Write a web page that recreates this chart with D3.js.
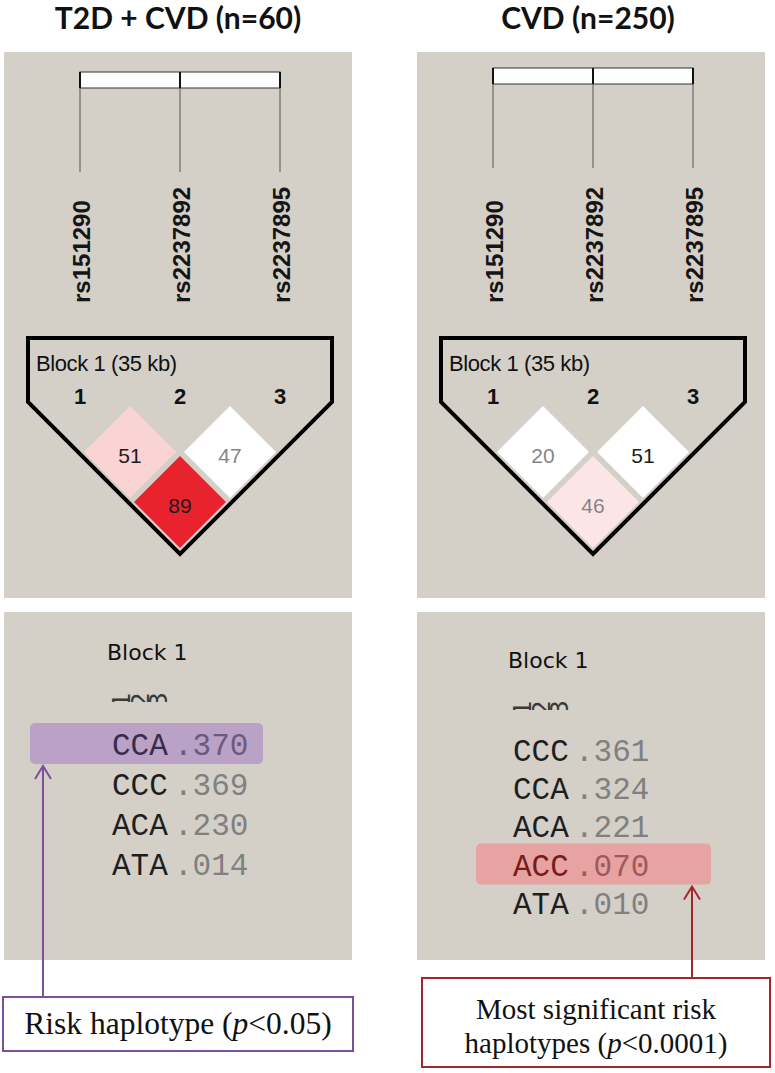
<!DOCTYPE html>
<html>
<head>
<meta charset="utf-8">
<script src="https://cdn.jsdelivr.net/npm/d3@7"></script>
<style>
body { margin: 0; background: #fff; }
</style>
</head>
<body>
<div id="chart"></div>
<script>
const titles = ["T2D + CVD (n=60)", "CVD (n=250)"];
const snps = ["rs151290", "rs2237892", "rs2237895"];
const ldPairs = [[0, 1], [1, 2], [0, 2]];
const ldT2D = [51, 47, 89];
const ldCVD = [20, 51, 46];
// how red each LD cell is (0 = white, 1 = full red)
const shadeT2D = [0.2, 0, 1];
const shadeCVD = [0, 0, 0.12];
// dark or grey number in the cell
const darkT2D = [true, false, true];
const darkCVD = [false, true, false];
const hapT2D = ["CCA", "CCC", "ACA", "ATA"];
const freqT2D = [0.370, 0.369, 0.230, 0.014];
const hapCVD = ["CCC", "CCA", "ACA", "ACC", "ATA"];
const freqCVD = [0.361, 0.324, 0.221, 0.070, 0.010];
const riskHaps = ["CCA", "ACC"];
const notes = [["Risk haplotype (", "p", "<0.05)"],
               ["Most significant risk", "haplotypes (", "p", "<0.0001)"]];

const w = 775;
const h = 1073;
const grey = "#d4d0c8";

const svg = d3.select("#chart")
    .append("svg")
    .attr("width", w)
    .attr("height", h);

const ldColor = d3.scaleLinear().domain([0, 1]).range(["#ffffff", "#e8232e"]);
const fmt = function (v) { return d3.format(".3f")(v).replace(/^0/, ""); };

// per panel layout
const panels = [
    { dx: 0, titleX: 178, barY: 72, ld: ldT2D, shade: shadeT2D, dark: darkT2D, haps: hapT2D, freqs: freqT2D,
      blockX: 107, blockY: 660, numY: 692, hapX: 112, rowY: 755, rowStep: 40,
      hlX: 30, hlW: 233, arrowX: 43, color: "#7b4f9b", hlFill: "#b9a2c6", hlText: "#3c2a4e", hlFreq: "#6c5a7e",
      box: [3, 997, 350, 54], noteSize: 31.5 },
    { dx: 413, titleX: 588, barY: 68, ld: ldCVD, shade: shadeCVD, dark: darkCVD, haps: hapCVD, freqs: freqCVD,
      blockX: 95, blockY: 668, numY: 700, hapX: 100, rowY: 761, rowStep: 38.2,
      hlX: 63, hlW: 235, arrowX: 279, color: "#a3262c", hlFill: "#e6a3a1", hlText: "#7a1a1c", hlFreq: "#9e5a5a",
      box: [9, 978, 348, 89], noteSize: 29 }
];

panels.forEach(function (p, pi) {
    const g = svg.append("g").attr("transform", "translate(" + p.dx + ",0)");

    // title
    svg.append("text")
        .attr("x", p.titleX)
        .attr("y", 29)
        .attr("text-anchor", "middle")
        .style("font-family", "Lato, 'Open Sans', sans-serif")
        .style("font-weight", "bold")
        .style("font-size", "30px")
        .style("fill", "#111")
        .text(titles[pi]);

    // ---- LD plot panel ----
    g.append("rect")
        .attr("x", 4).attr("y", 52)
        .attr("width", 348).attr("height", 546)
        .style("fill", grey);

    const xScale = d3.scalePoint().domain(snps).range([80, 280]);

    g.append("rect")
        .attr("x", xScale(snps[0])).attr("y", p.barY)
        .attr("width", xScale(snps[2]) - xScale(snps[0])).attr("height", 16)
        .style("fill", "#fff")
        .style("stroke", "#333")
        .style("stroke-width", 1);

    g.selectAll(".snpline")
        .data(snps)
        .enter()
        .append("line")
        .attr("x1", function (d) { return xScale(d); })
        .attr("x2", function (d) { return xScale(d); })
        .attr("y1", p.barY)
        .attr("y2", p.barY + 100)
        .style("stroke", "#555")
        .style("stroke-width", 1);

    g.selectAll(".snptick")
        .data(snps)
        .enter()
        .append("line")
        .attr("x1", function (d) { return xScale(d); })
        .attr("x2", function (d) { return xScale(d); })
        .attr("y1", p.barY)
        .attr("y2", p.barY + 16)
        .style("stroke", "#111")
        .style("stroke-width", 2);

    g.selectAll(".snplabel")
        .data(snps)
        .enter()
        .append("text")
        .attr("transform", function (d) { return "translate(" + (xScale(d) + 1.5) + ",303) rotate(-90)"; })
        .attr("dy", "0.35em")
        .style("font-family", "'Liberation Sans', Arial, sans-serif")
        .style("font-weight", "bold")
        .style("font-size", "24px")
        .style("fill", "#151515")
        .text(function (d) { return d; });

    // block outline
    const x0 = xScale(snps[0]) - 52;
    const x1 = xScale(snps[2]) + 52;
    const xm = xScale(snps[1]);
    const outline = [[x0, 338], [x1, 338], [x1, 402], [xm, 402 + (x1 - xm)], [x0, 402]];
    g.append("path")
        .attr("d", d3.line()(outline) + "Z")
        .style("fill", "none")
        .style("stroke", "#000")
        .style("stroke-width", 4)
        .style("stroke-linejoin", "miter");

    g.append("text")
        .attr("x", 36).attr("y", 371)
        .style("font-family", "'Liberation Sans', Arial, sans-serif")
        .style("font-size", "22px")
        .style("letter-spacing", "-0.4px")
        .style("fill", "#111")
        .text("Block 1 (35 kb)");

    g.selectAll(".snpnum")
        .data(snps)
        .enter()
        .append("text")
        .attr("x", function (d) { return xScale(d); })
        .attr("y", 404)
        .attr("text-anchor", "middle")
        .style("font-family", "'Liberation Sans', Arial, sans-serif")
        .style("font-weight", "bold")
        .style("font-size", "22px")
        .style("fill", "#111")
        .text(function (d, i) { return i + 1; });

    // LD diamonds
    const half = 46;
    const cells = ldPairs.map(function (pr, k) {
        const a = xScale(snps[pr[0]]);
        const b = xScale(snps[pr[1]]);
        return { cx: (a + b) / 2, cy: 402 + (pr[1] - pr[0]) * 50, v: p.ld[k], s: p.shade[k], dark: p.dark[k] };
    });
    g.selectAll(".cell")
        .data(cells)
        .enter()
        .append("path")
        .attr("d", function (d) {
            return d3.line()([[d.cx, d.cy - half], [d.cx + half, d.cy], [d.cx, d.cy + half], [d.cx - half, d.cy]]) + "Z";
        })
        .style("fill", function (d) { return ldColor(d.s); });
    g.selectAll(".cellval")
        .data(cells)
        .enter()
        .append("text")
        .attr("x", function (d) { return d.cx; })
        .attr("y", function (d) { return d.cy + 4; })
        .attr("dy", "0.35em")
        .attr("text-anchor", "middle")
        .style("font-family", "'Liberation Sans', Arial, sans-serif")
        .style("font-size", "21px")
        .style("fill", function (d) { return d.dark ? "#1c1c1c" : "#858585"; })
        .text(function (d) { return d.v; });

    // ---- haplotype panel ----
    g.append("rect")
        .attr("x", 4).attr("y", 612)
        .attr("width", 348).attr("height", 348)
        .style("fill", grey);

    g.append("text")
        .attr("x", p.blockX).attr("y", p.blockY)
        .style("font-family", "'DejaVu Sans', sans-serif")
        .style("font-size", "22px")
        .style("fill", "#111")
        .text("Block 1");

    // marker numbers, rotated and cut off as in the original
    const clipId = "clip" + pi;
    g.append("clipPath").attr("id", clipId)
        .append("rect")
        .attr("x", p.hapX - 4).attr("y", p.numY)
        .attr("width", 70).attr("height", 10);
    g.append("g").attr("clip-path", "url(#" + clipId + ")")
        .selectAll("text")
        .data(snps)
        .enter()
        .append("text")
        .attr("transform", function (d, i) {
            return "translate(" + (p.hapX + 18.5 * i + 18) + "," + (p.numY + 16) + ") rotate(-90)";
        })
        .style("font-family", "'DejaVu Sans', sans-serif")
        .style("font-size", "25px")
        .style("fill", "#3a3a3a")
        .text(function (d, i) { return i + 1; });

    const yRow = d3.scaleLinear().domain([0, 1]).range([p.rowY, p.rowY + p.rowStep]);
    const riskIdx = p.haps.indexOf(riskHaps[pi]);

    g.append("rect")
        .attr("x", p.hlX)
        .attr("y", yRow(riskIdx) - 32)
        .attr("width", p.hlW)
        .attr("height", 41)
        .attr("rx", 5)
        .style("fill", p.hlFill);

    const rows = g.selectAll(".row")
        .data(p.haps)
        .enter()
        .append("g");
    rows.append("text")
        .attr("x", p.hapX)
        .attr("y", function (d, i) { return yRow(i); })
        .style("font-family", "'Liberation Mono', 'DejaVu Sans Mono', monospace")
        .style("font-size", "31px")
        .style("fill", function (d, i) { return i === riskIdx ? p.hlText : "#1e1e1e"; })
        .text(function (d) { return d; });
    rows.append("text")
        .attr("x", p.hapX + 62)
        .attr("y", function (d, i) { return yRow(i); })
        .style("font-family", "'Liberation Mono', 'DejaVu Sans Mono', monospace")
        .style("font-size", "31px")
        .style("fill", function (d, i) { return i === riskIdx ? p.hlFreq : "#808080"; })
        .text(function (d, i) { return fmt(p.freqs[i]); });

    // arrow to the note box
    const tipY = yRow(riskIdx) + 11;
    g.append("line")
        .attr("x1", p.arrowX).attr("x2", p.arrowX)
        .attr("y1", tipY).attr("y2", p.box[1])
        .style("stroke", p.color)
        .style("stroke-width", 2);
    g.append("path")
        .attr("d", d3.line()([[p.arrowX - 8, tipY + 13], [p.arrowX, tipY], [p.arrowX + 8, tipY + 13]]))
        .style("fill", "none")
        .style("stroke", p.color)
        .style("stroke-width", 2);

    g.append("rect")
        .attr("x", p.box[0]).attr("y", p.box[1])
        .attr("width", p.box[2]).attr("height", p.box[3])
        .style("fill", "#fff")
        .style("stroke", p.color)
        .style("stroke-width", 2);

    const note = g.append("text")
        .attr("text-anchor", "middle")
        .style("font-family", "'Liberation Serif', 'Times New Roman', serif")
        .style("font-size", p.noteSize + "px")
        .style("fill", "#111");
    const cx = p.box[0] + p.box[2] / 2;
    if (pi === 0) {
        const t = note.append("tspan").attr("x", cx).attr("y", 1034);
        t.append("tspan").text(notes[0][0]);
        t.append("tspan").style("font-style", "italic").text(notes[0][1]);
        t.append("tspan").text(notes[0][2]);
    } else {
        note.append("tspan").attr("x", cx).attr("y", 1019).text(notes[1][0]);
        const t = note.append("tspan").attr("x", cx).attr("y", 1053);
        t.append("tspan").text(notes[1][1]);
        t.append("tspan").style("font-style", "italic").text(notes[1][2]);
        t.append("tspan").text(notes[1][3]);
    }
});
</script>
</body>
</html>
